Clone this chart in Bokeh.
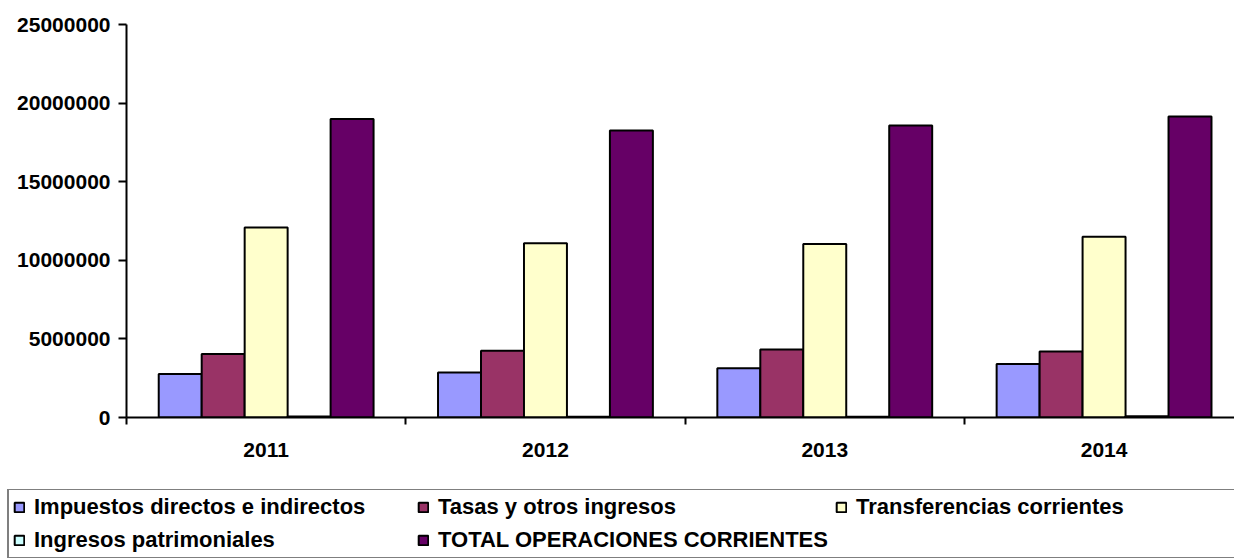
from bokeh.plotting import figure
from bokeh.layouts import column
from bokeh.models import Range1d, FixedTicker, NumeralTickFormatter, Legend, LegendItem
from bokeh.embed import file_html
from bokeh.resources import INLINE

# ---- data ----
years = ["2011", "2012", "2013", "2014"]
series_names = [
    "Impuestos directos e indirectos",
    "Tasas y otros ingresos",
    "Transferencias corrientes",
    "Ingresos patrimoniales",
    "TOTAL OPERACIONES CORRIENTES",
]
impuestos = [2760000, 2860000, 3140000, 3400000]
tasas = [4040000, 4250000, 4330000, 4200000]
transferencias = [12090000, 11080000, 11040000, 11500000]
patrimoniales = [60000, 50000, 50000, 80000]
total = [18990000, 18250000, 18570000, 19140000]
y_ticks = [0, 5000000, 10000000, 15000000, 20000000, 25000000]

colors = ["#9999FF", "#993366", "#FFFFCC", "#CCFFFF", "#660066"]
series = [impuestos, tasas, transferencias, patrimoniales, total]

FONT = "Liberation Sans"
FS = "21px"
LFS = "22px"

n = len(years)
p = figure(
    width=1234, height=489,
    x_range=Range1d(0, 3.967), y_range=Range1d(0, 25000000),
    output_backend="svg", toolbar_location=None,
    min_border_left=126, min_border_right=0, min_border_top=24, min_border_bottom=72,
)
p.frame_align = False
p.outline_line_color = None
p.xgrid.visible = False
p.ygrid.visible = False
p.background_fill_color = "white"
p.border_fill_color = "white"

# legend-only figure below the chart
pl = figure(
    width=1234, height=69,
    x_range=Range1d(0, 1), y_range=Range1d(-2, -1),
    x_axis_type=None, y_axis_type=None,
    output_backend="svg", toolbar_location=None,
    min_border_left=0, min_border_right=0, min_border_top=0, min_border_bottom=0,
)
pl.frame_align = False
pl.outline_line_color = None
pl.xgrid.visible = False
pl.ygrid.visible = False
pl.border_fill_color = "white"

w = 1 / 6.5
items = []
for k, (name, vals, col) in enumerate(zip(series_names, series, colors)):
    xs = [i + 0.5 + (k - 2) * w for i in range(n)]
    p.vbar(x=xs, top=vals, width=w, bottom=0, fill_color=col,
           line_color="black", line_width=2)
    # same series in the legend figure (out of its visible range) for legend swatches
    rl = pl.vbar(x=[(i + 0.5) / n for i in range(n)], top=vals, width=0.05, bottom=0,
                 fill_color=col, line_color="black", line_width=2)
    items.append(LegendItem(label=name, renderers=[rl]))

# y axis
ya = p.yaxis[0]
ya.ticker = FixedTicker(ticks=y_ticks, minor_ticks=[])
ya.formatter = NumeralTickFormatter(format="0")
ya.axis_line_width = 2
ya.axis_line_color = "black"
ya.major_tick_line_width = 2
ya.major_tick_in = 0
ya.major_tick_out = 8
ya.minor_tick_line_color = None
ya.major_label_standoff = 8
ya.major_label_text_font = FONT
ya.major_label_text_font_style = "bold"
ya.major_label_text_font_size = FS
ya.major_label_text_color = "black"

# x axis
xa = p.xaxis[0]
xa.ticker = FixedTicker(ticks=[i + 0.5 for i in range(n)], minor_ticks=list(range(n + 1)))
xa.major_label_overrides = {i + 0.5: y for i, y in enumerate(years)}
xa.axis_line_width = 2
xa.axis_line_color = "black"
xa.major_tick_in = 0
xa.major_tick_out = 0
xa.major_tick_line_color = None
xa.minor_tick_in = 0
xa.minor_tick_out = 7
xa.minor_tick_line_width = 2
xa.minor_tick_line_color = "black"
xa.major_label_standoff = 18
xa.major_label_text_font = FONT
xa.major_label_text_font_style = "bold"
xa.major_label_text_font_size = FS
xa.major_label_text_color = "black"

legend = Legend(
    items=items, orientation="horizontal", ncols=3,
    location=(7, -1),
    glyph_width=12, glyph_height=12, label_standoff=9,
    label_width=376, spacing=7, padding=4,
    label_text_font=FONT, label_text_font_style="bold", label_text_font_size=LFS,
    label_text_color="black",
    border_line_color="black", border_line_width=2,
    background_fill_color="white", background_fill_alpha=1.0,
    margin=0,
)
pl.add_layout(legend, "center")

layout = column(p, pl, spacing=0)
open("out.html", "w").write(file_html(layout, INLINE))
